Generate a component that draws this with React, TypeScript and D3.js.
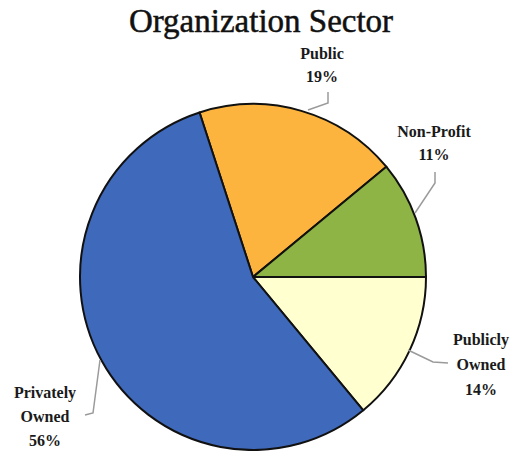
import React from "react";
import * as d3 from "d3";

const categories = ["Public", "Non-Profit", "Publicly Owned", "Privately Owned"];
const values = [19, 11, 14, 56];
const colors = ["#FDB43E", "#8DB445", "#FFFFCF", "#3F69BA"];
const labelLines = [["Public", "19%"], ["Non-Profit", "11%"], ["Publicly", "Owned", "14%"], ["Privately", "Owned", "56%"]];

const W = 514, H = 451;
const cx = 253, cy = 277, R = 173;

export default function App() {
  const pie = d3.pie<number>().sort(null).value(d => d)
    .startAngle(-18 * Math.PI / 180).endAngle(342 * Math.PI / 180);
  const arcs = pie(values);
  const arc = d3.arc<d3.PieArcDatum<number>>().innerRadius(0).outerRadius(R);

  const labelPos = [
    { x: 322, y: 59 },
    { x: 434, y: 137 },
    { x: 481, y: 345 },
    { x: 45, y: 398 },
  ];
  const lineH = [23, 23, 25, 24];
  const leaders = [
    "M328,92 L328,103 L308,110",
    "M435,172 L435,183 L415,213",
    "M408,350 L433,362 L448,363",
    "M100,360 L93,413 L85,415",
  ];

  return (
    <svg width={W} height={H} style={{ display: "block", position: "absolute", left: 0, top: 0 }}>
      <rect width={W} height={H} fill="#fff" />
      <text x={261} y={32} textAnchor="middle" fontFamily="'Liberation Serif', 'DejaVu Serif', serif" fontSize={33} fill="#111" stroke="#111" strokeWidth={0.5}>
        Organization Sector
      </text>
      <g transform={`translate(${cx},${cy})`}>
        {arcs.map((a, i) => (
          <path key={categories[i]} d={arc(a) || ""} fill={colors[i]} stroke="#111" strokeWidth={2} strokeLinejoin="round" />
        ))}
      </g>
      {leaders.map((d, i) => (
        <path key={"l" + i} d={d} fill="none" stroke="#9a9a9a" strokeWidth={1.5} />
      ))}
      {labelLines.map((lines, i) => (
        <text key={"t" + i} textAnchor="middle" fontFamily="'Liberation Serif', serif" fontWeight="bold" fontSize={16} fill="#1a1a1a">
          {lines.map((s, j) => (
            <tspan key={j} x={labelPos[i].x} y={labelPos[i].y + j * lineH[i]}>{s}</tspan>
          ))}
        </text>
      ))}
    </svg>
  );
}
